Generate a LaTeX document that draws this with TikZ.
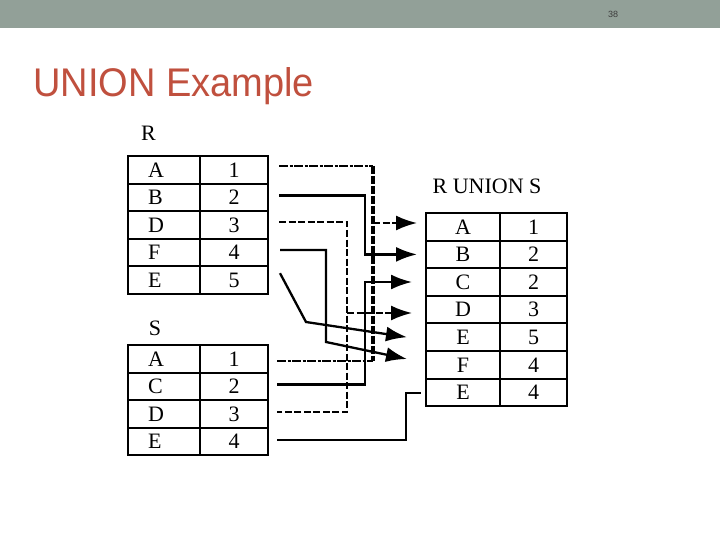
\documentclass[tikz,border=0pt]{standalone}
\usepackage{fontspec}
\setmainfont{Liberation Serif}
\newfontfamily\sansf{Liberation Sans}
\usetikzlibrary{arrows.meta}
\definecolor{hdr}{RGB}{146,160,152}
\definecolor{ttl}{RGB}{192,80,62}
\definecolor{pgn}{RGB}{60,60,60}
\begin{document}
\begin{tikzpicture}[x=1pt,y=-1pt,
  tfont/.style={font=\fontsize{22}{22}\selectfont},
  cell/.style={draw, line width=2pt, minimum height=27.6pt, inner sep=0pt, tfont},
  lcell/.style={cell, minimum width=72pt, text width=32pt, align=left},
  ncell/.style={cell, minimum width=68pt},
  ulcell/.style={cell, minimum width=74pt},
  urcell/.style={cell, minimum width=67pt},
  wire/.style={line width=2.3pt},
  ddash/.style={line width=2pt, dash pattern=on 9pt off 1.5pt on 3pt off 1.5pt},
  bus/.style={line width=3.6pt, dash pattern=on 8pt off 2pt},
  sdash/.style={line width=2pt, dash pattern=on 7pt off 2.5pt},
  tip/.style={-{Latex[length=21pt,width=15pt]}},
]
\useasboundingbox (0,0) rectangle (720,540);
\fill[hdr] (0,0) rectangle (720,28);
\node[font=\sansf\fontsize{9}{9}\selectfont, text=pgn] (pg) at (613,14) {38};
\node[anchor=base west, inner sep=0pt, text=ttl, font=\sansf\fontsize{40}{40}\selectfont] (title) at (33,97) {\scalebox{0.95}[1]{UNION Example}};

% labels
\node[tfont] (lR) at (148.5,133) {R};
\node[tfont] (lS) at (155,328) {S};
\node[tfont] (lU) at (487,186) {R UNION S};

% R table
\foreach \i/\l/\n in {1/A/1,2/B/2,3/D/3,4/F/4,5/E/5}{
  \node[lcell] (rl\i) at (164,{142.2+27.6*\i}) {\l};
  \node[ncell] (rr\i) at (234,{142.2+27.6*\i}) {\n};
}
% S table
\foreach \i/\l/\n in {1/A/1,2/C/2,3/D/3,4/E/4}{
  \node[lcell] (sl\i) at (164,{331.2+27.6*\i}) {\l};
  \node[ncell] (sr\i) at (234,{331.2+27.6*\i}) {\n};
}
% union table
\foreach \i/\l/\n in {1/A/1,2/B/2,3/C/2,4/D/3,5/E/5,6/F/4,7/E/4}{
  \node[ulcell] (ul\i) at (463,{199.2+27.6*\i}) {\l};
  \node[urcell] (ur\i) at (533.5,{199.2+27.6*\i}) {\n};
}

% connector end points
\coordinate (pRA) at ([xshift=10pt,yshift=4pt]rr1.east);
\coordinate (pRB) at ([xshift=10pt,yshift=2pt]rr2.east);
\coordinate (pRD) at ([xshift=10pt,yshift=3pt]rr3.east);
\coordinate (pRF) at ([xshift=11pt,yshift=2.6pt]rr4.east);
\coordinate (pRE) at ([xshift=11pt,yshift=7pt]rr5.east);
\coordinate (pSA) at ([xshift=8pt,yshift=-2pt]sr1.east);
\coordinate (pSC) at ([xshift=8pt,yshift=2pt]sr2.east);
\coordinate (pSD) at ([xshift=8pt,yshift=2pt]sr3.east);
\coordinate (pSE) at ([xshift=8pt,yshift=1.6pt]sr4.east);

\coordinate (qA) at ([xshift=-8pt,yshift=3.8pt]ul1.west);
\coordinate (qB) at ([xshift=-8pt]ul2.west);
\coordinate (qC) at ([xshift=-13pt]ul3.west);
\coordinate (qD) at ([xshift=-13pt,yshift=-3.4pt]ul4.west);
\coordinate (qE) at ([xshift=-18pt]ul5.west);
\coordinate (qF) at ([xshift=-18pt,yshift=5.8pt]ul6.west);
\coordinate (qL) at ([xshift=-4pt,yshift=-0.6pt]ul7.west);

\coordinate (xA) at (373,0);
\coordinate (xB) at (365,0);
\coordinate (xD) at (347,0);
\coordinate (xF) at (326,0);
\coordinate (xS) at (406,0);
\coordinate (kE) at (306,322);
\coordinate (kF) at (326,342);

% A
\draw[ddash] (pRA) -- (pRA -| xA);
\draw[ddash] (pSA) -- (pSA -| xA);
\draw[bus] (pRA -| xA) -- (pSA -| xA);
\draw[sdash,tip] (qA -| xA) -- (qA);
% B
\draw[wire,tip] (pRB) -- (pRB -| xB) -- (qB -| xB) -- (qB);
% C
\draw[wire,tip] (pSC) -- (pSC -| xB) -- (qC -| xB) -- (qC);
% D
\draw[sdash] (pRD) -- (pRD -| xD) -- (pSD -| xD) -- (pSD);
\draw[sdash,tip] (qD -| xD) -- (qD);
% E
\draw[wire,tip] (pRE) -- (kE) -- (qE);
% F
\draw[wire,tip] (pRF) -- (pRF -| xF) -- (kF) -- (qF);
% last E
\draw[wire] (pSE) -- (pSE -| xS) -- (qL -| xS) -- (qL);
\end{tikzpicture}
\end{document}
